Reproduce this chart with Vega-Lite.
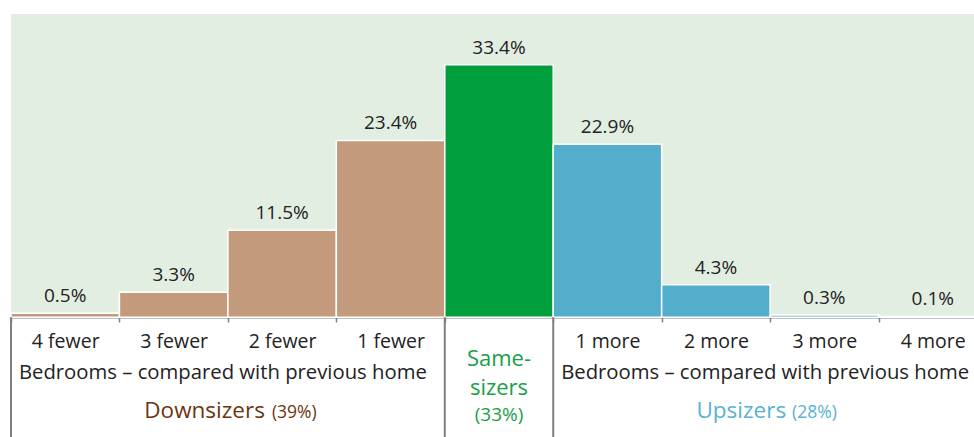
{
  "$schema": "https://vega.github.io/schema/vega-lite/v6.json",
  "width": 963,
  "height": 423,
  "autosize": {"type": "none"},
  "padding": {"left": 11, "top": 15, "right": 0, "bottom": 0},
  "background": "white",
  "config": {"view": {"stroke": null}, "font": "Open Sans", "text": {"font": "Open Sans"}},
  "datasets": {
    "bars": [
      {"cat": "4 fewer", "pct": 0.5, "group": "Downsizers"},
      {"cat": "3 fewer", "pct": 3.3, "group": "Downsizers"},
      {"cat": "2 fewer", "pct": 11.5, "group": "Downsizers"},
      {"cat": "1 fewer", "pct": 23.4, "group": "Downsizers"},
      {"cat": "Same", "pct": 33.4, "group": "Same-sizers"},
      {"cat": "1 more", "pct": 22.9, "group": "Upsizers"},
      {"cat": "2 more", "pct": 4.3, "group": "Upsizers"},
      {"cat": "3 more", "pct": 0.3, "group": "Upsizers"},
      {"cat": "4 more", "pct": 0.1, "group": "Upsizers"}
    ],
    "seps": [{"cat": "4 fewer"}, {"cat": "Same"}, {"cat": "1 more"}],
    "bedrooms": [{"cat": "2 fewer"}, {"cat": "3 more"}],
    "one": [{"cat": "Same"}]
  },
  "layer": [
    {
      "data": {"name": "one"},
      "mark": {"type": "rect", "color": "#e2eee2"},
      "encoding": {"y": {"datum": 0, "type": "quantitative", "scale": {"domain": [-16, 40]}}, "y2": {"datum": 40}}
    },
    {
      "data": {"name": "bars"},
      "mark": {"type": "bar", "stroke": "white", "strokeWidth": 1.5},
      "encoding": {
        "x": {
          "field": "cat", "type": "nominal", "sort": null,
          "scale": {"domain": ["4 fewer", "3 fewer", "2 fewer", "1 fewer", "Same", "1 more", "2 more", "3 more", "4 more"], "range": [0, 976], "paddingInner": 0, "paddingOuter": 0},
          "axis": {
            "orient": "bottom", "offset": -121, "title": null,
            "labelExpr": "datum.value == 'Same' ? '' : datum.value",
            "labelAngle": 0, "labelFontSize": 19.5, "labelColor": "#222222", "labelFont": "Open Sans",
            "labelPadding": 25, "labelBaseline": "alphabetic",
            "domainColor": "#808080", "domainWidth": 2,
            "tickBand": "extent", "tickColor": "#808080", "tickWidth": 1.5, "tickSize": 5,
            "grid": false
          }
        },
        "y": {
          "field": "pct", "type": "quantitative",
          "scale": {"domain": [-16, 40], "nice": false, "zero": false},
          "axis": {
            "values": [10, 20, 30, 40], "title": null, "labels": false, "ticks": false, "domain": false,
            "grid": true, "gridColor": {"condition": {"test": "datum.value === 40", "value": "#cfcfcf"}, "value": "#b3b3b3"},
            "gridWidth": {"condition": {"test": "datum.value === 40", "value": 2}, "value": 1.5}
          }
        },
        "y2": {"datum": 0},
        "color": {
          "field": "group", "type": "nominal", "legend": null,
          "scale": {"domain": ["Downsizers", "Same-sizers", "Upsizers"], "range": ["#c49a7c", "#009e3d", "#53aecb"]}
        }
      }
    },
    {
      "data": {"name": "bars"},
      "mark": {"type": "text", "fontSize": 19, "color": "#222222", "baseline": "alphabetic", "dy": -11, "text": {"expr": "format(datum.pct, '.1f') + '%'"}},
      "encoding": {
        "x": {"field": "cat", "type": "nominal", "sort": null},
        "y": {"field": "pct", "type": "quantitative"}
      }
    },
    {
      "data": {"name": "seps"},
      "mark": {"type": "rule", "color": "#808080", "strokeWidth": 2},
      "encoding": {
        "x": {"field": "cat", "type": "nominal", "sort": null, "bandPosition": 0},
        "y": {"datum": 0},
        "y2": {"datum": -16}
      }
    },
    {
      "data": {"name": "bedrooms"},
      "mark": {"type": "text", "fontSize": 20.3, "color": "#222222", "baseline": "alphabetic", "dx": -5},
      "encoding": {
        "x": {"field": "cat", "type": "nominal", "sort": null, "bandPosition": 0},
        "y": {"datum": -8.2},
        "text": {"value": "Bedrooms – compared with previous home"}
      }
    },
    {
      "data": {"name": "one"},
      "mark": {"type": "text", "fontSize": 22, "color": "#1a9e48", "baseline": "alphabetic", "lineHeight": 29},
      "encoding": {
        "x": {"field": "cat", "type": "nominal", "sort": null},
        "y": {"datum": -6.5},
        "text": {"value": ["Same-", "sizers"]}
      }
    },
    {
      "data": {"name": "one"},
      "mark": {"type": "text", "fontSize": 19, "color": "#1a9e48", "baseline": "alphabetic"},
      "encoding": {
        "x": {"field": "cat", "type": "nominal", "sort": null},
        "y": {"datum": -13.8},
        "text": {"value": "(33%)"}
      }
    },
    {
      "data": {"values": [{"cat": "2 fewer"}]},
      "mark": {"type": "text", "fontSize": 22.5, "color": "#6b3510", "baseline": "alphabetic", "align": "right", "dx": 37},
      "encoding": {
        "x": {"field": "cat", "type": "nominal", "sort": null, "bandPosition": 0},
        "y": {"datum": -13.4},
        "text": {"value": "Downsizers"}
      }
    },
    {
      "data": {"values": [{"cat": "2 fewer"}]},
      "mark": {"type": "text", "fontSize": 17.5, "color": "#6b3510", "baseline": "alphabetic", "align": "left", "dx": 44},
      "encoding": {
        "x": {"field": "cat", "type": "nominal", "sort": null, "bandPosition": 0},
        "y": {"datum": -13.4},
        "text": {"value": "(39%)"}
      }
    },
    {
      "data": {"values": [{"cat": "3 more"}]},
      "mark": {"type": "text", "fontSize": 22.5, "color": "#58b2d0", "baseline": "alphabetic", "align": "right", "dx": 16},
      "encoding": {
        "x": {"field": "cat", "type": "nominal", "sort": null, "bandPosition": 0},
        "y": {"datum": -13.4},
        "text": {"value": "Upsizers"}
      }
    },
    {
      "data": {"values": [{"cat": "3 more"}]},
      "mark": {"type": "text", "fontSize": 17.5, "color": "#58b2d0", "baseline": "alphabetic", "align": "left", "dx": 22},
      "encoding": {
        "x": {"field": "cat", "type": "nominal", "sort": null, "bandPosition": 0},
        "y": {"datum": -13.4},
        "text": {"value": "(28%)"}
      }
    }
  ]
}
